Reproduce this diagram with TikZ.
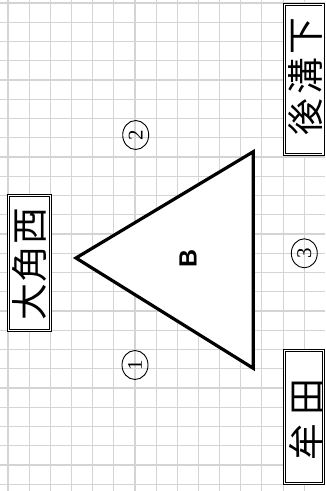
\documentclass[tikz,border=0pt]{standalone}
\usepackage{fontspec}
\setmainfont{Liberation Serif}
\newfontfamily\jpfont{Noto Sans CJK JP}
\newfontfamily\lsans{Liberation Sans}
\usetikzlibrary{shapes.geometric}
\definecolor{gridgray}{RGB}{212,212,212}
\tikzset{
  gridline/.style={draw=gridgray, line width=1.1bp},
  namebox/.style={draw=black, fill=white, line width=0.9bp, double=white, double distance=1.2bp, rectangle, inner sep=0pt},
  nametext/.style={rotate=90, inner sep=0pt, font=\jpfont\fontsize{37}{37}\selectfont},
  tri/.style={draw=black, fill=white, line width=3.2bp, line join=miter},
  circnum/.style={ellipse, draw=black, line width=0.9bp, rotate=90, minimum width=29bp, minimum height=26bp, inner sep=0pt, font=\fontsize{21}{21}\selectfont},
  bigletter/.style={rotate=90, inner sep=0pt, font=\lsans\bfseries\fontsize{25}{25}\selectfont}
}
\begin{document}
\begin{tikzpicture}[x=1bp,y=-1bp]
\useasboundingbox (0,0) rectangle (325,491);
\fill[white] (0,0) rectangle (325,491);
\foreach \k in {0,...,14} \draw[gridline] ({8+21.16*\k},0) -- ({8+21.16*\k},491);
\foreach \k in {0,...,25} \draw[gridline] (0,{3+19.25*\k}) -- (325,{3+19.25*\k});
% triangle
\coordinate (tA) at (76,258);
\coordinate (tB) at (253.3,151.7);
\coordinate (tC) at (253.3,368.3);
\draw[tri] (tA) -- (tB) -- (tC) -- cycle;
\node[bigletter] (lb) at (188,258.3) {B};
% name boxes
\node[namebox, minimum width=41.4bp, minimum height=134.4bp] (box1) at (29.5,263) {};
\node[nametext] (t1) at (30,264) {大\kern1bp 角\kern1bp 西};
\node[namebox, minimum width=38.5bp, minimum height=149.7bp] (box2) at (303.75,79.65) {};
\node[nametext] (t2) at (305.5,76.5) {後\kern4bp 溝\kern4bp 下};
\node[namebox, minimum width=39.1bp, minimum height=132.7bp] (box3) at (303.75,417.15) {};
\node[nametext] (t3) at (306.5,419.5) {牟\kern8bp 田};
% circled numbers
\node[circnum] (c1) at (135,365) {1};
\node[circnum] (c2) at (135.7,135) {2};
\node[circnum] (c3) at (304.3,253.3) {3};
\end{tikzpicture}
\end{document}
